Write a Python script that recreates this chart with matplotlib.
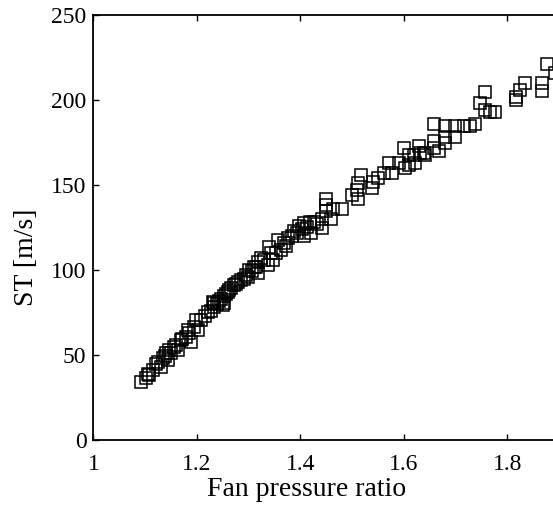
import matplotlib
matplotlib.use("Agg")
import matplotlib.pyplot as plt

# Fan pressure ratio vs specific thrust
fpr = [1.091, 1.101, 1.107, 1.115, 1.120, 1.130, 1.134, 1.140, 1.144, 1.150,
       1.155, 1.163, 1.169, 1.179, 1.182, 1.188, 1.198, 1.202, 1.208, 1.227,
       1.231, 1.233, 1.233, 1.243, 1.250, 1.252, 1.252, 1.260, 1.266, 1.272,
       1.280, 1.291, 1.299, 1.301, 1.311, 1.318, 1.318, 1.324, 1.338, 1.340,
       1.344, 1.348, 1.357, 1.363, 1.369, 1.377, 1.383, 1.388, 1.398, 1.408,
       1.408, 1.418, 1.421, 1.427, 1.441, 1.441, 1.450, 1.450, 1.450, 1.460,
       1.464, 1.480, 1.499, 1.509, 1.512, 1.512, 1.518, 1.538, 1.541, 1.551,
       1.561, 1.571, 1.577, 1.590, 1.600, 1.602, 1.610, 1.610, 1.619, 1.621,
       1.629, 1.631, 1.640, 1.641, 1.658, 1.658, 1.658, 1.668, 1.680, 1.680,
       1.680, 1.699, 1.699, 1.717, 1.728, 1.738, 1.748, 1.757, 1.757, 1.767,
       1.777, 1.816, 1.817, 1.825, 1.835, 1.868, 1.868, 1.877, 1.893,
       1.105, 1.125, 1.138, 1.147, 1.160, 1.172, 1.185, 1.195, 1.215, 1.222,
       1.238, 1.247, 1.256, 1.263, 1.276, 1.286, 1.295, 1.306, 1.314, 1.330,
       1.352, 1.373, 1.393, 1.403, 1.413, 1.433]
st = [34.0, 36.4, 38.0, 41.0, 45.0, 43.0, 48.0, 51.0, 47.0, 51.0,
      54.6, 52.9, 58.8, 60.5, 64.6, 57.6, 70.5, 64.6, 70.5, 76.0,
      81.0, 78.0, 80.5, 82.0, 79.3, 85.0, 80.5, 87.0, 89.3, 91.0,
      92.8, 95.0, 95.8, 100.0, 101.6, 104.6, 98.0, 107.0, 102.8, 113.4,
      109.9, 105.8, 117.5, 111.6, 115.7, 118.7, 120.0, 123.0, 126.0, 127.5,
      120.0, 128.0, 122.0, 128.0, 130.0, 125.0, 142.0, 138.0, 135.0, 130.0,
      136.0, 136.0, 144.0, 147.0, 151.0, 142.0, 155.7, 148.0, 151.6, 154.0,
      157.0, 162.7, 157.0, 162.7, 171.5, 160.0, 167.5, 161.6, 167.5, 162.7,
      173.0, 168.6, 168.6, 167.5, 185.7, 176.0, 172.0, 170.0, 184.5, 178.0,
      174.5, 184.5, 178.0, 184.5, 185.0, 186.0, 198.0, 204.5, 194.0, 193.0,
      193.0, 200.0, 201.5, 205.6, 210.0, 210.0, 205.0, 221.0, 216.0,
      39.0, 46.0, 49.5, 53.0, 56.0, 59.5, 63.0, 66.5, 73.0, 75.5,
      80.0, 83.0, 86.0, 88.0, 91.5, 94.0, 97.0, 99.5, 102.0, 106.0,
      110.0, 114.0, 121.5, 124.0, 125.5, 127.0]

x_ticks = [1, 1.2, 1.4, 1.6, 1.8]
x_tick_labels = ["1", "1.2", "1.4", "1.6", "1.8"]
y_ticks = [0, 50, 100, 150, 200, 250]

plt.rcParams["font.family"] = ["Liberation Serif", "DejaVu Serif"]

fig = plt.figure(figsize=(5.53, 5.05), dpi=100)
ax = fig.add_axes([0.169, 0.1287, 0.8418, 0.8416])

ax.plot(fpr, st, linestyle="none", marker="s", markersize=8.4,
        markerfacecolor="none", markeredgecolor="black", markeredgewidth=1.1)

ax.set_xlim(1, 1.9)
ax.set_ylim(0, 250)
ax.set_xticks(x_ticks)
ax.set_xticklabels(x_tick_labels)
ax.set_yticks(y_ticks)

ax.tick_params(direction="in", length=4, width=1, top=True, right=True,
               labelsize=17, colors="black")
ax.tick_params(axis="y", pad=5)
ax.tick_params(axis="x", pad=10)
for s in ax.spines.values():
    s.set_linewidth(1.3)

ax.set_xlabel("Fan pressure ratio", fontsize=20)
ax.set_ylabel("ST [m/s]", fontsize=20)
ax.xaxis.set_label_coords(0.4587, -0.088)
ax.yaxis.set_label_coords(-0.116, 0.43)

fig.savefig("out.png", dpi=100)
